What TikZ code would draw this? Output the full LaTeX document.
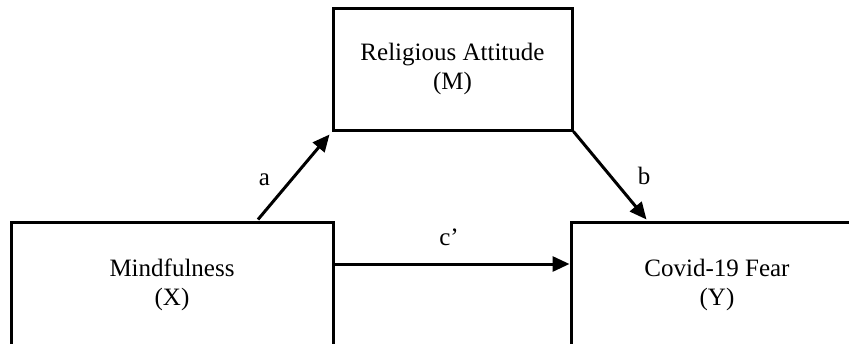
\documentclass[tikz,border=0pt]{standalone}
\usepackage{fontspec}
\setmainfont{Liberation Serif}
\usetikzlibrary{arrows.meta}
\begin{document}
\begin{tikzpicture}[x=1pt,y=-1pt,
  box/.style={draw=black,line width=3pt,rectangle,inner sep=0pt,align=center,
    font=\fontsize{25}{29}\selectfont},
  arr/.style={line width=3pt,-{Triangle[length=17pt,width=15pt]}},
  lbl/.style={anchor=base,inner sep=0pt,font=\fontsize{25}{29}\selectfont}]
\useasboundingbox (0,0) rectangle (849,343);
\clip (0,0) rectangle (849,343);
\fill[white] (0,0) rectangle (849,343);
\node[box,minimum width=239pt,minimum height=122pt] (M) at (452.5,69) {Religious Attitude\\(M)};
\node[box,minimum width=322pt,minimum height=126pt] (X) at (172,285) {Mindfulness\\(X)};
\node[box,minimum width=292pt,minimum height=126pt] (Y) at (717,285) {Covid-19 Fear\\(Y)};
\draw[arr] ([xshift=86pt,yshift=1pt]X.north) -- ([xshift=-2pt,yshift=-3pt]M.south west);
\draw[arr] (M.south east) -- ([xshift=77pt,yshift=1pt]Y.north west);
\draw[arr] ([yshift=21pt]X.east) -- ([yshift=21pt]Y.west);
\node[lbl] (la) at (264.5,185) {a};
\node[lbl] (lb) at (644,184) {b};
\node[lbl] (lc) at (449,245) {c’};
\end{tikzpicture}
\end{document}
